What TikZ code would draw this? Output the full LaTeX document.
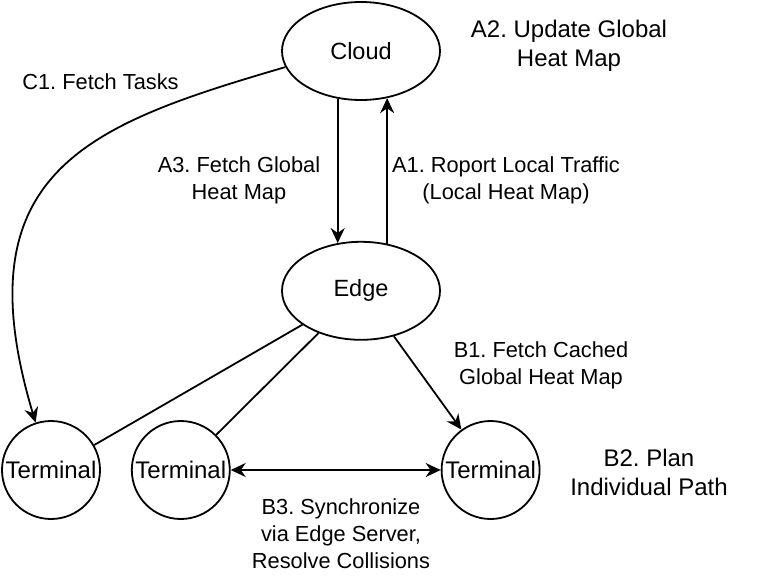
\documentclass[tikz,border=0pt]{standalone}
\usepackage{fontspec}
\setmainfont{Liberation Sans}
\frenchspacing
\usetikzlibrary{positioning,arrows.meta,shapes.geometric}

\begin{document}
\begin{tikzpicture}[
  x=1pt, y=1pt, line width=1.8pt,
  srv/.style={draw, ellipse, minimum width=158pt, minimum height=98pt,
              font=\fontsize{23.5}{28}\selectfont},
  term/.style={draw, circle, minimum size=98pt, inner sep=0pt,
               font=\fontsize{24}{28}\selectfont},
  lbl/.style={align=center, inner sep=0pt,
              font=\fontsize{21.8}{27}\selectfont},
  note/.style={align=center, inner sep=0pt,
               font=\fontsize{24}{29}\selectfont},
  >={Stealth[length=15pt, width=14pt]}
]
  \useasboundingbox (0,0) rectangle (764,-582);

  \node[srv] (cloud) at (361,-51) {Cloud};
  \node[srv, below=140pt of cloud] (edge) {Edge};

  \node[term] (t1) at (51,-470) {Terminal};
  \node[term, right=30pt of t1] (t2) {Terminal};
  \node[term, right=210pt of t2] (t3) {Terminal};

  % edge labels
  \node[lbl] (c1) at (100.5,-82) {C1. Fetch Tasks};
  \node[lbl] (a3) at (239,-180) {A3. Fetch Global\\Heat Map};
  \node[lbl] (a1) at (506,-180) {A1. Roport Local Traffic\\(Local Heat Map)};
  \node[lbl] (b1) at (541,-365) {B1. Fetch Cached\\Global Heat Map};
  \node[lbl] (b3) at (341,-534) {B3. Synchronize\\via Edge Server,\\Resolve Collisions};

  % notes next to the nodes
  \node[note] (a2) at (569,-46) {A2. Update Global\\Heat Map};
  \node[note] (b2) at (649,-472) {B2. Plan\\Individual Path};

  \draw[->] (cloud.244) -- (edge.116);
  \draw[->] (edge.61) -- (cloud.299);
  \draw[->] (cloud.192) .. controls (91,-124) and (-40,-170) .. (t1.108);
  \draw (edge) -- (t1);
  \draw (edge) -- (t2);
  \draw[->] (edge) -- (t3);
  \draw[<->] (t2) -- (t3);
\end{tikzpicture}
\end{document}
